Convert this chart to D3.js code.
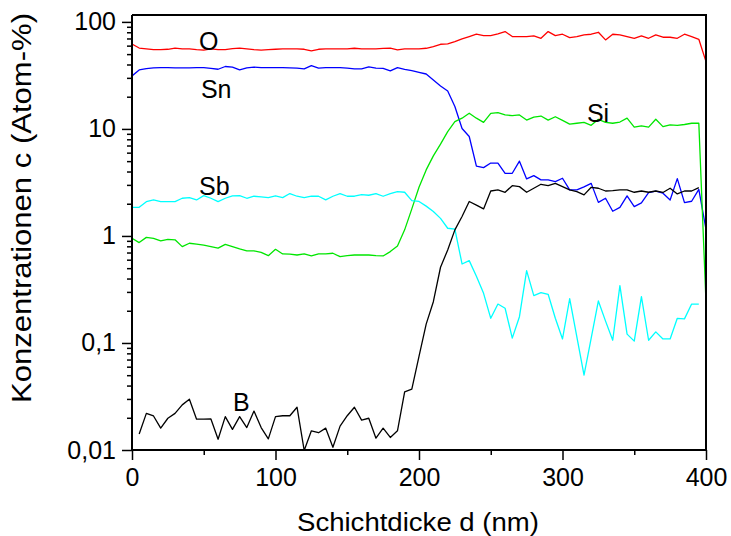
<!DOCTYPE html>
<html>
<head>
<meta charset="utf-8">
<script src="https://cdn.jsdelivr.net/npm/d3@7"></script>
<style>
html,body{margin:0;padding:0;background:#fff;}
text{font-family:"Liberation Sans",Arial,sans-serif;}
</style>
</head>
<body>
<svg id="chart" width="731" height="536"></svg>
<script>
// ---- data (depth in nm, concentrations in Atom-%) ----
const depth = [0,5,10,15,20,25,30,35,40,45,50,55,60,65,70,75,80,85,90,95,100,
  105,110,115,120,125,130,135,140,145,150,155,160,165,170,175,180,185,190,195,200,
  205,210,215,220,225,230,235,240,245,250,255,260,265,270,275,280,285,290,295,300,
  305,310,315,320,325,330,335,340,345,350,355,360,365,370,375,380,385,390,395,400];

const O = [62,57,56,55,55,55.5,57,56,56,55,54.5,56,55,55,56.3,57,56,55,54.5,55,55.5,
  56,56,56,55.5,53.6,55.5,56,56,56,56,56.7,56,56,56,56.5,57,54.7,56,56,56,
  56.7,58.8,61.8,62.3,65.5,69.4,73,76.7,74.5,74.5,77.3,81.2,73,73,73,74,70.3,81.2,74.5,76.7,
  71.4,73,75.6,76.7,80,67.9,76.7,75.6,73,70.3,74,70.3,75.6,71.9,71.9,70.3,76.7,73,68.8,42.6];

const Sn = [31.3,35.6,36.6,37.2,37.4,37.4,37.2,37.2,37.2,37.4,37.4,36.8,36.1,38.3,37.8,35.6,37.2,37.8,37.4,37.4,37.4,
  37.4,37.2,37,36.4,39,37,37.4,37.4,37.4,37,36.4,36.4,38,37,36.8,34.8,37.4,36,35,33.8,
  32.6,28.7,25.2,22.6,16.2,10.1,8.5,4.5,4.35,4.8,4.8,3.85,3.85,5.0,3.41,3.66,3.34,3.34,3.22,3.46,
  2.7,2.7,2.87,3.1,2.06,2.25,1.7,1.85,2.37,1.88,2.04,2.54,2.62,2.51,2.17,3.43,2.05,2.11,2.72,1.15];

const Si = [0.95,0.867,0.97,0.95,0.90,0.93,0.92,0.795,0.855,0.84,0.82,0.795,0.77,0.835,0.795,0.757,0.725,0.725,0.703,0.654,0.75,
  0.679,0.676,0.664,0.679,0.65,0.679,0.679,0.689,0.64,0.654,0.664,0.664,0.664,0.654,0.65,0.714,0.807,1.14,1.79,2.85,
  4.14,5.6,7.2,9.44,11.7,12.6,14.0,12.6,11.5,14.0,14.2,13.5,13.3,13.5,12.1,12.9,13.2,12.1,13.0,12.0,
  11.1,11.3,11.5,10.8,12.3,11.5,11.3,11.6,12.6,10.4,10.7,10.4,12.3,10.5,10.9,10.8,11.0,11.3,11.3,0.24];

const Sb = [1.85,1.85,2.09,2.17,2.09,2.09,2.09,2.25,2.28,2.17,2.38,2.25,2.09,2.25,2.37,2.38,2.25,2.35,2.32,2.28,2.37,
  2.28,2.49,2.35,2.28,2.35,2.35,2.17,2.35,2.49,2.35,2.35,2.43,2.40,2.49,2.35,2.49,2.6,2.56,2.14,2.1,
  1.9,1.69,1.46,1.18,1.16,0.547,0.588,0.42,0.291,0.170,0.231,0.211,0.111,0.176,0.474,0.277,0.295,0.285,0.170,0.109,
  0.259,0.114,0.050,0.111,0.247,0.160,0.106,0.343,0.121,0.104,0.271,0.106,0.127,0.109,0.109,0.170,0.168,0.231,0.231,null];

const B = [null,0.0141,0.022,0.0208,0.016,0.0198,0.022,0.0264,0.0298,0.0194,0.0194,0.0195,0.0126,0.0205,0.0156,0.0205,0.0162,0.0231,0.0162,0.0127,0.0205,
  0.0209,0.0209,0.0251,0.0099,0.0151,0.0145,0.016,0.0106,0.0167,0.0209,0.0251,0.019,0.0198,0.0129,0.016,0.0131,0.0151,0.035,0.037,0.075,
  0.15,0.243,0.51,0.74,1.14,1.52,2.1,1.94,1.79,2.63,2.69,2.56,2.95,2.89,2.56,2.79,3.04,2.95,3.1,2.89,
  2.69,2.6,2.42,2.85,2.79,2.63,2.65,2.69,2.69,2.56,2.63,2.56,2.63,2.55,2.79,2.47,2.63,2.63,2.83,null];

const seriesNames = ["O","Sn","Si","Sb","B"];
const seriesValues = [O, Sn, Si, Sb, B];
const seriesColors = ["#ff0000","#0000ff","#00e600","#00ffff","#000000"];
// label anchor (left baseline) in data units: [depth nm, concentration]
const labelPos = [[46.7,54.6],[48,19.5],[317,11.6],[46.7,2.42],[70.4,0.0231]];

const xTicks = [0,100,200,300,400];
const xMinor = [50,150,250,350];
const yTicks = [0.01,0.1,1,10,100];
const yTickLabels = ["0,01","0,1","1","10","100"];
const xTitle = "Schichtdicke d (nm)";
const yTitle = "Konzentrationen c (Atom-%)";

// ---- drawing ----
const svg = d3.select("#chart");
const W = 731, H = 536;
svg.append("rect").attr("width",W).attr("height",H).attr("fill","#fff");

const x = d3.scaleLinear().domain([0,400]).range([132,706]);
const y = d3.scaleLog().domain([0.01,116]).range([450,15]);

const plot = svg.append("g");
plot.append("clipPath").attr("id","clip").append("rect")
  .attr("x",132).attr("y",15).attr("width",574).attr("height",435);

const line = d3.line()
  .defined(d => d[1] !== null)
  .x(d => x(d[0]))
  .y(d => y(Math.max(d[1], 0.0095)));

seriesValues.forEach((vals,i) => {
  const pts = depth.map((d,j) => [d, vals[j]]);
  plot.append("path")
    .attr("d", line(pts))
    .attr("fill","none")
    .attr("stroke", seriesColors[i])
    .attr("stroke-width",1.3)
    .attr("stroke-linejoin","round")
    .attr("clip-path","url(#clip)");
});

// frame (top, right)
svg.append("path")
  .attr("d", `M${x(0)},${y(116)}H${x(400)}V${y(0.01)}`)
  .attr("fill","none").attr("stroke","#000").attr("stroke-width",2);

// minor y ticks
const yMinor = [];
[0.01,0.1,1,10,100].forEach(dec => { for (let m=2;m<=9;m++){ const v=dec*m; if (v<=116) yMinor.push(v);} });

const fontSize = 25;

const yAxisMinor = svg.append("g").attr("transform",`translate(${x(0)},0)`)
  .call(d3.axisLeft(y).tickValues(yMinor).tickSize(5).tickFormat(""));
const yAxis = svg.append("g").attr("transform",`translate(${x(0)},0)`)
  .call(d3.axisLeft(y).tickValues(yTicks).tickSize(10).tickPadding(6)
    .tickFormat((d,i) => yTickLabels[i]));

const xAxisMinor = svg.append("g").attr("transform",`translate(0,${y(0.01)})`)
  .call(d3.axisBottom(x).tickValues(xMinor).tickSize(5).tickFormat(""));
const xAxis = svg.append("g").attr("transform",`translate(0,${y(0.01)})`)
  .call(d3.axisBottom(x).tickValues(xTicks).tickSize(10).tickPadding(8).tickFormat(d3.format("d")));

[yAxisMinor,yAxis,xAxisMinor,xAxis].forEach(g => {
  g.selectAll(".domain").attr("stroke","#000").attr("stroke-width",2);
  g.selectAll(".tick line").attr("stroke","#000").attr("stroke-width",1.5);
  g.selectAll("text").attr("font-size",fontSize).attr("fill","#000")
    .attr("font-family","'Liberation Sans',Arial,sans-serif");
});
yAxisMinor.select(".domain").remove();
xAxisMinor.select(".domain").remove();
yAxis.select(".domain").attr("d",`M0,${y(116)}V${y(0.01)}`);
xAxis.select(".domain").attr("d",`M${x(0)},0H${x(400)}`);

// axis titles
svg.append("text")
  .attr("x",418).attr("y",531)
  .attr("text-anchor","middle")
  .attr("font-size",26)
  .attr("textLength",242).attr("lengthAdjust","spacingAndGlyphs")
  .text(xTitle);

svg.append("text")
  .attr("transform","translate(31,208) rotate(-90)")
  .attr("text-anchor","middle")
  .attr("font-size",27)
  .attr("textLength",390).attr("lengthAdjust","spacingAndGlyphs")
  .text(yTitle);

// series labels
seriesNames.forEach((n,i) => {
  svg.append("text")
    .attr("x", x(labelPos[i][0]))
    .attr("y", y(labelPos[i][1]))
    .attr("font-size",fontSize)
    .attr("fill","#000")
    .text(n);
});
</script>
</body>
</html>
